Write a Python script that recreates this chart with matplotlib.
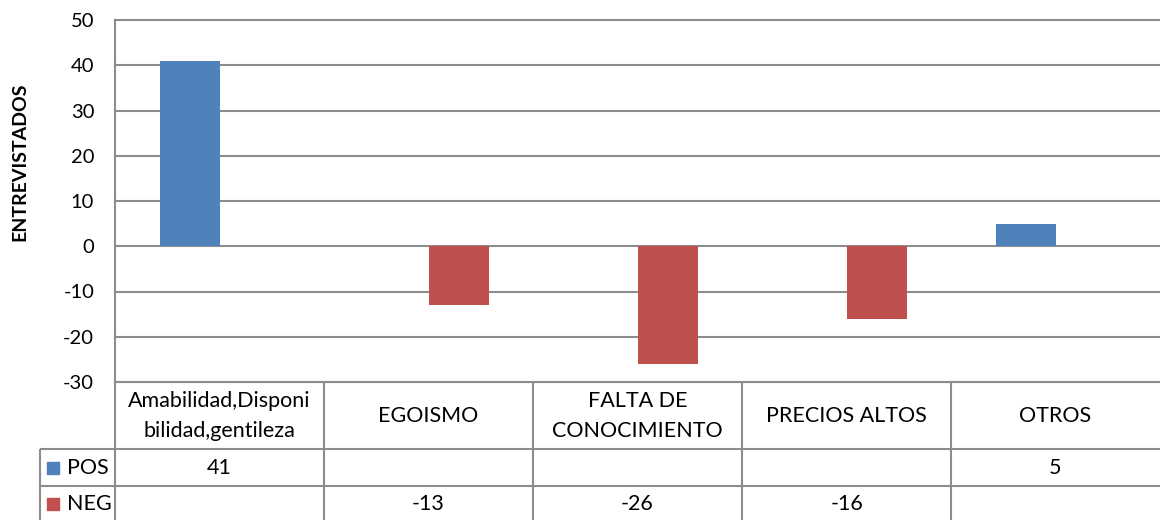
import matplotlib
matplotlib.use("Agg")
import matplotlib.pyplot as plt
import numpy as np

# ---- data ----
categories = ["Amabilidad,Disponi\nbilidad,gentileza", "EGOISMO",
              "FALTA DE\nCONOCIMIENTO", "PRECIOS ALTOS", "OTROS"]
series_names = ["POS", "NEG"]
pos_values = [41, None, None, None, 5]
neg_values = [None, -13, -26, -16, None]
yticks = [-30, -20, -10, 0, 10, 20, 30, 40, 50]
ylabel = "ENTREVISTADOS"

BLUE = "#4F81BD"
RED = "#C0504D"
GRID = "#8C8C8C"

plt.rcParams['font.family'] = ['Lato', 'DejaVu Sans']

W, H = 1160, 520
fig = plt.figure(figsize=(W / 100, H / 100), dpi=100)

# main plot area
ax = fig.add_axes([115 / W, 1 - 382 / H, 1045 / W, 362 / H])
n = len(categories)
x = np.arange(n)
colw = 209.0
bw = 60 / colw
pos = np.array([np.nan if v is None else v for v in pos_values], float)
neg = np.array([np.nan if v is None else v for v in neg_values], float)
ax.bar(x - bw / 2, pos, bw, color=BLUE, zorder=3)
ax.bar(x + bw / 2, neg, bw, color=RED, zorder=3)
ax.set_xlim(-0.5, n - 0.5)
ax.set_ylim(min(yticks), max(yticks))
ax.set_yticks(yticks)
ax.set_yticklabels([str(t) for t in yticks])
ax.yaxis.grid(True, color=GRID, lw=1.5, clip_on=False)
ax.set_axisbelow(True)
ax.set_xticks([])
for s in ["top", "right"]:
    ax.spines[s].set_visible(False)
for s in ["left", "bottom"]:
    ax.spines[s].set_color(GRID)
    ax.spines[s].set_linewidth(1.5)
ax.tick_params(axis='y', length=0, pad=15, labelsize=14.5)

fig.text(20 / W, 1 - 162 / H, ylabel, rotation=90, fontweight='bold',
         ha='center', va='center', fontsize=14)

# data table below
left_px = 40
tax = fig.add_axes([left_px / W, 0, (W - left_px) / W, 138 / H])
xl = -0.5 - (115 - left_px) / colw
tax.set_xlim(xl, n - 0.5)
tax.set_ylim(520, 382)
tax.axis('off')

def px(xp):
    return -0.5 + (xp - 115) / colw

tax.hlines([449, 486], xl, n - 0.5, color=GRID, lw=1.5, clip_on=False)
tax.vlines([k - 0.5 for k in range(n)], 382, 520, color=GRID, lw=1.5, clip_on=False)
tax.vlines([xl], 449, 520, color=GRID, lw=1.5, clip_on=False)

FS = 15.5
for i, c in enumerate(categories):
    tax.text(i, 416, c, ha='center', va='center', fontsize=FS, linespacing=1.6)

row_y = [467.5, 503.5]
for vals, yy, name, col in zip([pos_values, neg_values], row_y, series_names, [BLUE, RED]):
    for i, v in enumerate(vals):
        if v is not None:
            tax.text(i, yy, str(v), ha='center', va='center', fontsize=FS)
    tax.plot([px(53)], [yy], marker='s', ms=8, color=col, clip_on=False, ls='none')
    tax.text(px(67), yy, name, ha='left', va='center', fontsize=FS)

fig.savefig("out.png", dpi=100)
